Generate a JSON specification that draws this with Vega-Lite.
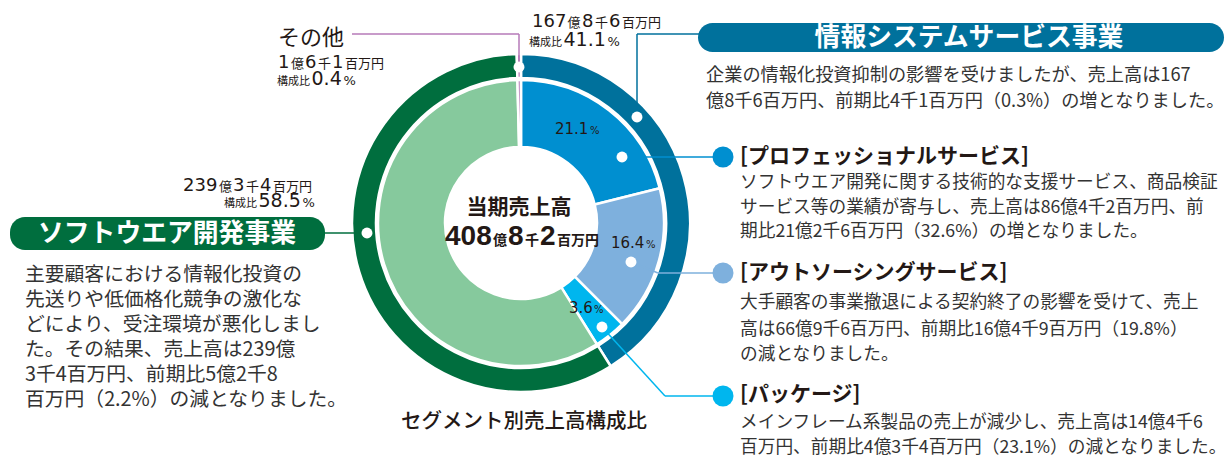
{
"$schema":"https://vega.github.io/schema/vega-lite/v6.json",
"width":1042,"height":446,
"autosize":{"type":"none"},
"padding":{"left":0,"top":0,"right":185,"bottom":12},
"background":"#ffffff",
"config":{"view":{"stroke":null},"text":{"font":"Noto Sans CJK JP"}},
"datasets":{
"outer":[{"segment":"情報システムサービス事業","value":41.1,"ord":1},{"segment":"ソフトウエア開発事業","value":58.5,"ord":2},{"segment":"その他","value":0.4,"ord":3}],
"inner":[{"segment":"プロフェッショナルサービス","value":21.1,"ord":1},{"segment":"アウトソーシングサービス","value":16.4,"ord":2},{"segment":"パッケージ","value":3.6,"ord":3},{"segment":"ソフトウエア開発事業","value":58.5,"ord":4},{"segment":"その他","value":0.4,"ord":5}],
"leaders":[
{"segment":"その他","x":352,"y":34,"x2":519,"y2":34},
{"segment":"その他","x":519,"y":34,"x2":519,"y2":67},
{"segment":"情報システムサービス事業","x":637,"y":117,"x2":637,"y2":34},
{"segment":"情報システムサービス事業","x":637,"y":34,"x2":700,"y2":34},
{"segment":"プロフェッショナルサービス","x":622,"y":157,"x2":723,"y2":157},
{"segment":"アウトソーシングサービス","x":631,"y":262,"x2":658,"y2":273},
{"segment":"アウトソーシングサービス","x":658,"y":273,"x2":723,"y2":273},
{"segment":"パッケージ","x":602,"y":327,"x2":665,"y2":396},
{"segment":"パッケージ","x":665,"y":396,"x2":723,"y2":396},
{"segment":"ソフトウエア開発事業","x":320,"y":233,"x2":367,"y2":233}
],
"dots":[{"x":637,"y":117},{"x":622,"y":157},{"x":631,"y":262},{"x":602,"y":327},{"x":367,"y":233},{"x":519,"y":67}],
"bullets":[{"segment":"プロフェッショナルサービス","x":723,"y":157},{"segment":"アウトソーシングサービス","x":723,"y":273},{"segment":"パッケージ","x":723,"y":396}],
"pills":[{"segment":"情報システムサービス事業","x":698,"x2":1224,"y":23,"y2":52},{"segment":"ソフトウエア開発事業","x":10,"x2":325,"y":217,"y2":250}],
"pillText":[{"t":"情報システムサービス事業","x":969,"y":38},{"t":"ソフトウエア開発事業","x":167,"y":234}],
"leftBody":[
{"t":"主要顧客における情報化投資の","x":25,"y":275},
{"t":"先送りや低価格化競争の激化な","x":25,"y":300},
{"t":"どにより、受注環境が悪化しまし","x":25,"y":325},
{"t":"た。その結果、売上高は239億","x":25,"y":350},
{"t":"3千4百万円、前期比5億2千8","x":25,"y":375},
{"t":"百万円（2.2%）の減となりました。","x":25,"y":400}
],
"infoBody":[
{"t":"企業の情報化投資抑制の影響を受けましたが、売上高は167","x":706,"y":76},
{"t":"億8千6百万円、前期比4千1百万円（0.3%）の増となりました。","x":706,"y":102}
],
"subBody":[
{"t":"ソフトウエア開発に関する技術的な支援サービス、商品検証","x":740,"y":183},
{"t":"サービス等の業績が寄与し、売上高は86億4千2百万円、前","x":740,"y":208},
{"t":"期比21億2千6百万円（32.6%）の増となりました。","x":740,"y":232},
{"t":"大手顧客の事業撤退による契約終了の影響を受けて、売上","x":740,"y":303},
{"t":"高は66億9千6百万円、前期比16億4千9百万円（19.8%）","x":740,"y":330},
{"t":"の減となりました。","x":740,"y":355},
{"t":"メインフレーム系製品の売上が減少し、売上高は14億4千6","x":740,"y":423},
{"t":"百万円、前期比4億3千4百万円（23.1%）の減となりました。","x":740,"y":448}
],
"subHeads":[
{"t":"[プロフェッショナルサービス]","x":740,"y":157},
{"t":"[アウトソーシングサービス]","x":740,"y":273},
{"t":"[パッケージ]","x":740,"y":395}
],
"centerTitle":[{"t":"当期売上高","x":519,"y":208}],
"caption":[{"t":"セグメント別売上高構成比","x":524,"y":422}],
"centerBig":[{"t":"408","x":445,"y":245},{"t":"8","x":508,"y":245},{"t":"2","x":540,"y":245}],
"centerSmall":[{"t":"億","x":493,"y":245},{"t":"千","x":525,"y":245},{"t":"百万円","x":557,"y":245}],
"outNums":[
{"t":"167","x":532,"y":27},{"t":"8","x":582,"y":27},{"t":"6","x":609,"y":27},
{"t":"1","x":278,"y":68},{"t":"6","x":305,"y":68},{"t":"1","x":332,"y":68},
{"t":"239","x":183,"y":191},{"t":"3","x":233,"y":191},{"t":"4","x":260,"y":191}
],
"outUnits":[
{"t":"億","x":567.5,"y":27},{"t":"千","x":595,"y":27},{"t":"百万円","x":622,"y":27},
{"t":"億","x":291,"y":68},{"t":"千","x":318,"y":68},{"t":"百万円","x":345,"y":68},
{"t":"億","x":219,"y":191},{"t":"千","x":246,"y":191},{"t":"百万円","x":273,"y":191}
],
"ratioLabel":[{"t":"構成比","x":529,"y":46},{"t":"構成比","x":277,"y":85},{"t":"構成比","x":224,"y":207}],
"ratioNums":[{"t":"41.1","x":563.5,"y":46},{"t":"0.4","x":311.5,"y":85},{"t":"58.5","x":258.5,"y":207}],
"ratioPct":[{"t":"%","x":607.5,"y":46},{"t":"%","x":343.5,"y":85},{"t":"%","x":302.5,"y":207}],
"otherTitle":[{"t":"その他","x":278,"y":45}],
"innerNums":[{"t":"21.1","x":555,"y":134},{"t":"16.4","x":611,"y":248},{"t":"3.6","x":569,"y":313}],
"innerPct":[{"t":"%","x":590,"y":134},{"t":"%","x":646,"y":248},{"t":"%","x":594,"y":313}]
},
"encoding":{
"x":{"field":"x","type":"quantitative","scale":{"domain":[0,1042],"nice":false,"zero":false},"axis":null},
"y":{"field":"y","type":"quantitative","scale":{"domain":[0,446],"nice":false,"zero":false,"reverse":true},"axis":null}
},
"layer":[
{"data":{"name":"outer"},"mark":{"type":"arc","radius":169,"radius2":145,"stroke":"#ffffff","strokeWidth":2.5,"strokeJoin":"round"},
 "encoding":{
 "x":null,"y":null,
 "theta":{"field":"value","type":"quantitative","stack":true},
 "order":{"field":"ord","type":"quantitative"},
 "color":{"field":"segment","type":"nominal","legend":null,"scale":{"domain":["情報システムサービス事業","ソフトウエア開発事業","その他"],"range":["#00719c","#006e3e","#b67ab8"]}}}},
{"data":{"name":"inner"},"mark":{"type":"arc","radius":143,"radius2":76,"stroke":"#ffffff","strokeWidth":2.5,"strokeJoin":"round"},
 "encoding":{
 "x":null,"y":null,
 "theta":{"field":"value","type":"quantitative","stack":true},
 "order":{"field":"ord","type":"quantitative"},
 "color":{"field":"segment","type":"nominal","legend":null,"scale":{"domain":["プロフェッショナルサービス","アウトソーシングサービス","パッケージ","ソフトウエア開発事業","その他"],"range":["#008fd0","#7eb0dd","#00b6ee","#86c99d","#b67ab8"]}}}},
{"data":{"name":"leaders"},"mark":{"type":"rule","strokeWidth":1.5},
 "encoding":{"x2":{"field":"x2"},"y2":{"field":"y2"},
 "color":{"field":"segment","type":"nominal","legend":null,"scale":{"domain":["情報システムサービス事業","プロフェッショナルサービス","アウトソーシングサービス","パッケージ","ソフトウエア開発事業","その他"],"range":["#00719c","#008fd0","#7eb0dd","#00b6ee","#006e3e","#b67ab8"]}}}},
{"data":{"name":"dots"},"mark":{"type":"point","shape":"circle","filled":true,"size":120,"color":"#ffffff","opacity":1},"encoding":{}},
{"data":{"name":"bullets"},"mark":{"type":"point","shape":"circle","filled":true,"size":440,"opacity":1},
 "encoding":{"color":{"field":"segment","type":"nominal","legend":null,"scale":{"domain":["プロフェッショナルサービス","アウトソーシングサービス","パッケージ"],"range":["#008fd0","#7eb0dd","#00b6ee"]}}}},
{"data":{"name":"pills"},"mark":{"type":"rect","cornerRadius":15},
 "encoding":{"x2":{"field":"x2"},"y2":{"field":"y2"},
 "color":{"field":"segment","type":"nominal","legend":null,"scale":{"domain":["情報システムサービス事業","ソフトウエア開発事業"],"range":["#00719c","#006e3e"]}}}},
{"data":{"name":"pillText"},"mark":{"type":"text","fontSize":25.8,"fontWeight":"bold","color":"#ffffff","align":"center","baseline":"middle"},"encoding":{"text":{"field":"t"}}},
{"data":{"name":"leftBody"},"mark":{"type":"text","fontSize":19.8,"color":"#333333","align":"left","baseline":"middle"},"encoding":{"text":{"field":"t"}}},
{"data":{"name":"infoBody"},"mark":{"type":"text","fontSize":18.2,"color":"#333333","align":"left","baseline":"middle"},"encoding":{"text":{"field":"t"}}},
{"data":{"name":"subBody"},"mark":{"type":"text","fontSize":17.7,"color":"#333333","align":"left","baseline":"middle"},"encoding":{"text":{"field":"t"}}},
{"data":{"name":"subHeads"},"mark":{"type":"text","fontSize":21,"fontWeight":"bold","color":"#231815","align":"left","baseline":"middle"},"encoding":{"text":{"field":"t"}}},
{"data":{"name":"centerTitle"},"mark":{"type":"text","fontSize":21,"fontWeight":"bold","color":"#231815","align":"center","baseline":"middle"},"encoding":{"text":{"field":"t"}}},
{"data":{"name":"caption"},"mark":{"type":"text","fontSize":20.5,"fontWeight":500,"color":"#231815","align":"center","baseline":"middle"},"encoding":{"text":{"field":"t"}}},
{"data":{"name":"centerBig"},"mark":{"type":"text","font":"Liberation Sans","fontSize":28,"fontWeight":"bold","color":"#231815","align":"left","baseline":"alphabetic"},"encoding":{"text":{"field":"t"}}},
{"data":{"name":"centerSmall"},"mark":{"type":"text","fontSize":14,"fontWeight":"bold","color":"#231815","align":"left","baseline":"alphabetic"},"encoding":{"text":{"field":"t"}}},
{"data":{"name":"outNums"},"mark":{"type":"text","font":"DejaVu Sans","fontSize":18,"color":"#231815","align":"left","baseline":"alphabetic"},"encoding":{"text":{"field":"t"}}},
{"data":{"name":"outUnits"},"mark":{"type":"text","fontSize":13,"color":"#231815","align":"left","baseline":"alphabetic"},"encoding":{"text":{"field":"t"}}},
{"data":{"name":"ratioLabel"},"mark":{"type":"text","fontSize":11,"color":"#231815","align":"left","baseline":"alphabetic"},"encoding":{"text":{"field":"t"}}},
{"data":{"name":"ratioNums"},"mark":{"type":"text","font":"DejaVu Sans","fontSize":19,"color":"#231815","align":"left","baseline":"alphabetic"},"encoding":{"text":{"field":"t"}}},
{"data":{"name":"ratioPct"},"mark":{"type":"text","font":"DejaVu Sans","fontSize":13,"color":"#231815","align":"left","baseline":"alphabetic"},"encoding":{"text":{"field":"t"}}},
{"data":{"name":"otherTitle"},"mark":{"type":"text","fontSize":22,"color":"#231815","align":"left","baseline":"alphabetic"},"encoding":{"text":{"field":"t"}}},
{"data":{"name":"innerNums"},"mark":{"type":"text","font":"DejaVu Sans","fontSize":15,"color":"#231815","align":"left","baseline":"alphabetic"},"encoding":{"text":{"field":"t"}}},
{"data":{"name":"innerPct"},"mark":{"type":"text","font":"DejaVu Sans","fontSize":10,"color":"#231815","align":"left","baseline":"alphabetic"},"encoding":{"text":{"field":"t"}}}
],
"resolve":{"scale":{"color":"independent","theta":"independent"}}
}
